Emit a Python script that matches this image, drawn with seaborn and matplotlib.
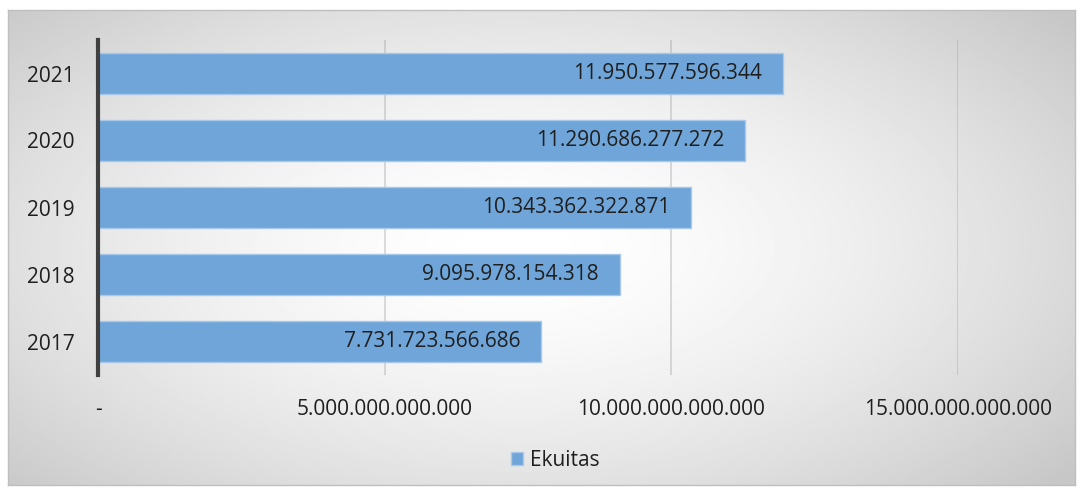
import numpy as np
import pandas as pd
import matplotlib.pyplot as plt
import seaborn as sns

# data
years = ["2021", "2020", "2019", "2018", "2017"]
ekuitas = [11950577596344, 11290686277272, 10343362322871, 9095978154318, 7731723566686]
xticks = [0, 5e12, 10e12, 15e12]
xtick_labels = ["-", "5.000.000.000.000", "10.000.000.000.000", "15.000.000.000.000"]

df = pd.DataFrame({"tahun": years, "Ekuitas": ekuitas})

sns.set_style("white")
plt.rcParams["font.family"] = ["Open Sans", "DejaVu Sans"]
text_color = "#1f1f1f"

W, H = 1083, 490
fig = plt.figure(figsize=(W / 100, H / 100), dpi=100)
fig.patch.set_facecolor("white")

# radial grey-to-white background of the chart box
bg = fig.add_axes([8 / W, 5 / H, 1067 / W, 475 / H])
yy, xx = np.mgrid[-1:1:300j, -1:1:600j]
r = np.sqrt((xx + 0.05) ** 2 + (yy * 0.9) ** 2)
shade = 1 - 0.22 * np.clip(r / 1.35, 0, 1) ** 1.6
bg.imshow(shade, cmap="gray", vmin=0, vmax=1, aspect="auto", interpolation="bilinear")
bg.set_xticks([])
bg.set_yticks([])
for s in bg.spines.values():
    s.set_color("#bfbfbf")
    s.set_linewidth(1)

ax = fig.add_axes([98 / W, 115 / H, 860 / W, 335 / H])
ax.patch.set_alpha(0)
sns.barplot(data=df, x="Ekuitas", y="tahun", orient="h", width=0.6,
            color="#6fa5d8", edgecolor="#a7c8e8", linewidth=1, saturation=1,
            label="Ekuitas", ax=ax)

for i, v in enumerate(ekuitas):
    lbl = f"{v:,}".replace(",", ".")
    ax.annotate(lbl, (v, i), xytext=(-15, 0), textcoords="offset points",
                ha="right", va="center", fontsize=15, color=text_color)

ax.set_xlim(0, 15e12)
ax.set_ylim(4.5, -0.5)
ax.set_xticks(xticks)
ax.set_xticklabels(xtick_labels)
ax.grid(axis="x", color="#8c8c8c", alpha=0.35, linewidth=1.2)
ax.set_axisbelow(True)
for s in ["top", "right", "bottom"]:
    ax.spines[s].set_visible(False)
ax.spines["left"].set_color("#404040")
ax.spines["left"].set_linewidth(3)
ax.tick_params(axis="x", length=0, pad=17, labelsize=15, colors=text_color)
ax.tick_params(axis="y", length=0, pad=17, labelsize=15, colors=text_color)
ax.set_xlabel("")
ax.set_ylabel("")

handles, labels = ax.get_legend_handles_labels()
if ax.get_legend() is not None:
    ax.get_legend().remove()
fig.legend(handles, labels, loc="center", bbox_to_anchor=(555 / W, 1 - 460 / H),
           frameon=False, fontsize=15, handlelength=0.6, handleheight=0.6,
           handletextpad=0.3, labelcolor=text_color)

fig.savefig("out.png", dpi=100)
